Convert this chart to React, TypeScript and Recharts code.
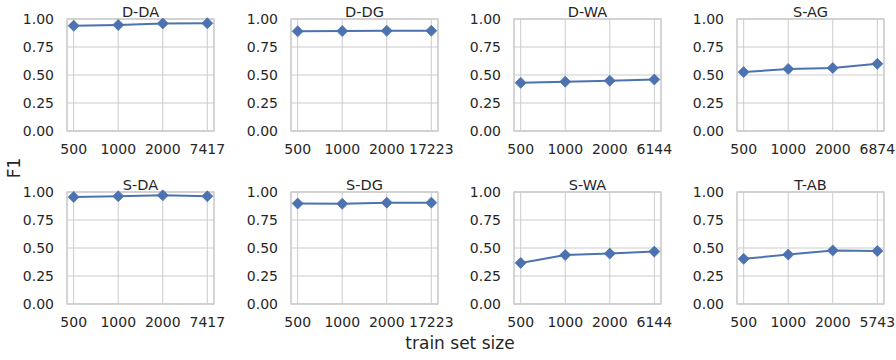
import { LineChart, Line, XAxis, YAxis, CartesianGrid, ReferenceArea } from 'recharts'

// categories (train set sizes) and panels
const baseSizes = ['500', '1000', '2000']
const fullSizes = ['7417', '17223', '6144', '6874', '7417', '17223', '6144', '5743']
const panelNames = ['D-DA', 'D-DG', 'D-WA', 'S-AG', 'S-DA', 'S-DG', 'S-WA', 'T-AB']
const yTicks = [0, 0.25, 0.5, 0.75, 1]

// F1 values, one array per panel
const dDA = [0.94, 0.947, 0.96, 0.962]
const dDG = [0.89, 0.892, 0.894, 0.895]
const dWA = [0.43, 0.44, 0.449, 0.46]
const sAG = [0.526, 0.554, 0.562, 0.6]
const sDA = [0.955, 0.962, 0.97, 0.962]
const sDG = [0.897, 0.895, 0.905, 0.905]
const sWA = [0.367, 0.437, 0.45, 0.468]
const tAB = [0.403, 0.441, 0.478, 0.473]

const series = [dDA, dDG, dWA, sAG, sDA, sDG, sWA, tAB]

const BLUE = '#4c72b0'
const GRID = '#cccccc'
const TEXT = '#262626'
const FONT = '"DejaVu Sans", sans-serif'

const plotLefts = [67, 291, 514, 737]
const plotTops = [19, 192]
const PLOT_W = 147
const PLOT_H = 112
const Y_AXIS_W = 45
const TOP_M = 10
const RIGHT_M = 22
const X_AXIS_H = 30

function Diamond(props: any) {
  const { cx, cy, index } = props
  if (cx == null || cy == null) return null
  const r = 5.5
  return (
    <polygon
      key={index}
      points={`${cx},${cy - r} ${cx + r},${cy} ${cx},${cy + r} ${cx - r},${cy}`}
      fill={BLUE}
      stroke={BLUE}
      strokeWidth={0.8}
    />
  )
}

function Panel({ idx }: { idx: number }) {
  const labels = [...baseSizes, fullSizes[idx]]
  const data = series[idx].map((v, i) => ({ i, f1: v }))
  const col = idx % 4
  const row = Math.floor(idx / 4)
  const left = plotLefts[col] - Y_AXIS_W
  const top = plotTops[row] - TOP_M
  return (
    <div style={{ position: 'absolute', left, top }}>
      <LineChart
        width={Y_AXIS_W + PLOT_W + RIGHT_M}
        height={TOP_M + PLOT_H + X_AXIS_H}
        data={data}
        margin={{ top: TOP_M, right: RIGHT_M, bottom: 0, left: 0 }}
        style={{ overflow: 'visible' }}
      >
        <CartesianGrid stroke={GRID} strokeWidth={1} />
        <XAxis
          dataKey="i"
          type="number"
          domain={[-0.15, 3.15]}
          ticks={[0, 1, 2, 3]}
          tickFormatter={(i: number) => labels[i]}
          allowDataOverflow
          axisLine={false}
          tickLine={false}
          tickSize={6}
          tickMargin={7}
          height={X_AXIS_H}
          interval={0}
          tick={{ fill: TEXT, fontSize: 14, fontFamily: FONT }}
        />
        <YAxis
          type="number"
          domain={[0, 1]}
          ticks={yTicks}
          tickFormatter={(v: number) => v.toFixed(2)}
          axisLine={false}
          tickLine={false}
          tickSize={6}
          tickMargin={7}
          width={Y_AXIS_W}
          interval={0}
          tick={{ fill: TEXT, fontSize: 14, fontFamily: FONT }}
        />
        <ReferenceArea
          x1={-0.15}
          x2={3.15}
          y1={0}
          y2={1}
          fill="none"
          fillOpacity={0}
          stroke={GRID}
          strokeWidth={1.3}
        />
        <Line
          type="linear"
          dataKey="f1"
          stroke={BLUE}
          strokeWidth={2}
          dot={Diamond}
          activeDot={false}
          isAnimationActive={false}
        />
      </LineChart>
    </div>
  )
}

export default function App() {
  return (
    <div
      style={{
        position: 'absolute',
        left: 0,
        top: 0,
        width: 896,
        height: 360,
        background: '#ffffff',
        fontFamily: FONT,
      }}
    >
      {panelNames.map((_, idx) => (
        <Panel key={idx} idx={idx} />
      ))}
      <svg
        width={896}
        height={360}
        style={{ position: 'absolute', left: 0, top: 0, pointerEvents: 'none' }}
      >
        {panelNames.map((name, idx) => {
          const col = idx % 4
          const row = Math.floor(idx / 4)
          return (
            <text
              key={name}
              x={plotLefts[col] + PLOT_W / 2}
              y={plotTops[row] - 2}
              textAnchor="middle"
              fill={TEXT}
              fontSize={14.5}
              fontFamily={FONT}
            >
              {name}
            </text>
          )
        })}
        <text
          x={14}
          y={168}
          transform="rotate(-90 14 168)"
          textAnchor="middle"
          dominantBaseline="central"
          fill={TEXT}
          fontSize={17}
          fontFamily={FONT}
        >
          F1
        </text>
        <text
          x={460}
          y={343}
          textAnchor="middle"
          dominantBaseline="central"
          fill={TEXT}
          fontSize={17}
          fontFamily={FONT}
        >
          train set size
        </text>
      </svg>
    </div>
  )
}
